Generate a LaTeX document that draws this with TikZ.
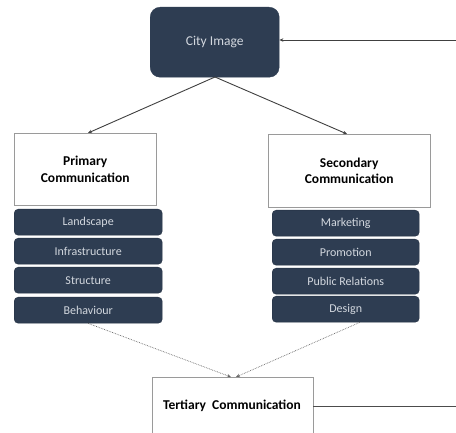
\documentclass[tikz,border=0pt]{standalone}
\usepackage{fontspec}
\setmainfont{Carlito}
\usetikzlibrary{arrows.meta}
\definecolor{navy}{HTML}{2E3D52}
\definecolor{boxtext}{HTML}{D3D8DF}
\definecolor{edgegrey}{HTML}{9A9A9A}
\tikzset{
  darkbox/.style={draw=navy!80!black, fill=navy, rounded corners=4pt, text=boxtext, font=\fontsize{12}{13}\selectfont, minimum width=148pt, minimum height=26pt, inner sep=0pt, anchor=north west},
  whitebox/.style={draw=edgegrey, fill=white, font=\bfseries\fontsize{13.5}{16.5}\selectfont, align=center, inner sep=0pt, anchor=north west},
  conn/.style={draw=black!75, line width=0.9pt, -{Stealth[length=4pt,width=3.5pt]}},
  dotconn/.style={draw=black!60, line width=0.7pt, densely dotted, -{Stealth[length=4pt,width=3.5pt]}},
  plain/.style={draw=black!70, line width=0.9pt}
}
\begin{document}
\begin{tikzpicture}[x=1pt,y=-1pt]
\useasboundingbox (0,0) rectangle (456,433);
\clip (0,0) rectangle (456,433);
\fill[white] (0,0) rectangle (456,433);
% City image
\node[draw=navy, fill=navy, rounded corners=10pt, text=boxtext, font=\fontsize{13.5}{15}\selectfont, minimum width=129pt, minimum height=70pt, inner sep=0pt, anchor=north west] (city) at (150,7) {City Image};
% Primary / Secondary
\node[whitebox, minimum width=142pt, minimum height=72pt] (prim) at (14,133) {Primary\\Communication};
\node[whitebox, minimum width=162pt, minimum height=73pt] (sec) at (268,134) {Secondary\\Communication};
% left items
\node[darkbox] (l1) at (14,209) {Landscape};
\node[darkbox] (l2) at (14,238) {Infrastructure};
\node[darkbox] (l3) at (14,267) {Structure};
\node[darkbox] (l4) at (14,297) {Behaviour};
% right items
\node[darkbox, minimum width=147pt] (r1) at (272,210) {Marketing};
\node[darkbox, minimum width=147pt] (r2) at (272,239) {Promotion};
\node[darkbox, minimum width=147pt] (r3) at (272,268) {Public Relations};
\node[darkbox, minimum width=147pt] (r4) at (272,296) {Design};
% Tertiary
\node[whitebox, minimum width=161pt, minimum height=70pt] (ter) at (152,377) {};
\node[font=\bfseries\fontsize{13.5}{15}\selectfont, inner sep=0pt] (tertext) at (232,406) {Tertiary\ \ Communication};
% coordinates
\coordinate (cb) at (215,77);
\coordinate (pt) at (88,133);
\coordinate (st) at (347,134);
\coordinate (rin) at (456,40);
\coordinate (rout) at (456,406);
\coordinate (t1) at (231,377);
\coordinate (t2) at (236,377);
% connectors
\draw[conn] (cb) -- (pt);
\draw[conn] (cb) -- (st);
\draw[conn] (rin) -- (city.east |- rin);
\draw[dotconn] (l4.south) -- (t1);
\draw[dotconn] ([xshift=14pt]r4.south) -- (t2);
\draw[plain] (ter.east |- rout) -- (rout);
\end{tikzpicture}
\end{document}
